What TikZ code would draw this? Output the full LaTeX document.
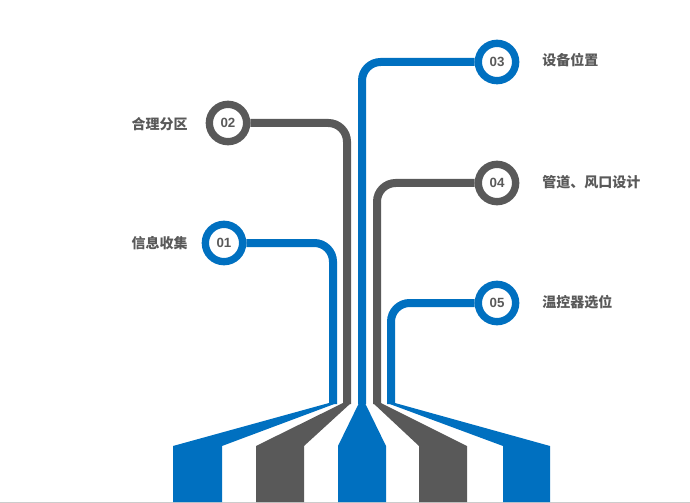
\documentclass[tikz,border=0pt]{standalone}
\usepackage{fontspec}
\setmainfont{Liberation Sans}
\newfontfamily\cjk{Noto Sans CJK SC}
\usetikzlibrary{positioning,calc}
\definecolor{PBlue}{HTML}{0070C0}
\definecolor{PGray}{HTML}{595959}
\tikzset{
  ring/.style={circle, draw=#1, line width=5.5pt, fill=white, minimum size=28pt,
    inner sep=0pt, text=PGray, font=\bfseries\fontsize{10}{10}\selectfont},
  pipe/.style={draw=#1, line width=6pt, rounded corners=14pt},
  lbl/.style={text=PGray, font=\cjk\bfseries\fontsize{10.5}{12}\selectfont, inner sep=0pt},
}
\begin{document}
\begin{tikzpicture}[x=0.75pt, y=-0.75pt]
        \useasboundingbox (0,0) rectangle (690,503);
        \draw[gray!40] (0,502) -- (690,502);
        % bottom fan
        \fill[PBlue] (173,502) -- (173,446) -- (329,403) -- (337,403) -- (222,446) -- (222,502) -- cycle;
        \fill[PGray] (256,502) -- (256,446) -- (343,403) -- (351,403) -- (304,446) -- (304,502) -- cycle;
        \fill[PBlue] (338,502) -- (338,446) -- (359,403) -- (365,403) -- (386,446) -- (386,502) -- cycle;
        \fill[PGray] (419,502) -- (419,446) -- (373,403) -- (381,403) -- (467,446) -- (467,502) -- cycle;
        \fill[PBlue] (503,502) -- (503,446) -- (387,403) -- (395,403) -- (550,446) -- (550,502) -- cycle;
        % pipe ends
        \coordinate (e1) at (333,404);
        \coordinate (e2) at (347,404);
        \coordinate (e3) at (362,404);
        \coordinate (e4) at (377,404);
        \coordinate (e5) at (391,404);
        % circles
        \node[ring=PBlue] (c1) at (224,243) {01};
        \node[ring=PGray] (c2) at (228,123) {02};
        \node[ring=PBlue] (c3) at (497,62) {03};
        \node[ring=PGray] (c4) at (497,183) {04};
        \node[ring=PBlue] (c5) at (497,303) {05};
        \begin{scope}[on background layer/.style={}]
        \draw[pipe=PBlue] (c1.east) -- (e1 |- c1) -- (e1);
        \draw[pipe=PGray] (c2.east) -- (e2 |- c2) -- (e2);
        \draw[pipe=PBlue] (c3.west) -- (e3 |- c3) -- (e3);
        \draw[pipe=PGray] (c4.west) -- (e4 |- c4) -- (e4);
        \draw[pipe=PBlue] (c5.west) -- (e5 |- c5) -- (e5);
        \end{scope}
        % labels
        \node[lbl, anchor=east] (t1) at (188,243) {信息收集};
        \node[lbl, anchor=east] (t2) at (188,124) {合理分区};
        \node[lbl, anchor=west] (t3) at (542,60) {设备位置};
        \node[lbl, anchor=west] (t4) at (542,182) {管道、风口设计};
        \node[lbl, anchor=west] (t5) at (542,302) {温控器选位};
\end{tikzpicture}
\end{document}
